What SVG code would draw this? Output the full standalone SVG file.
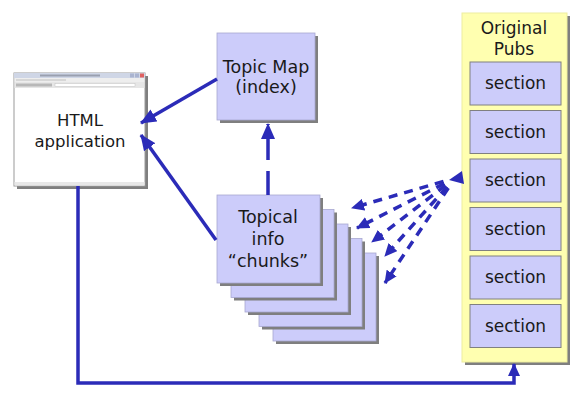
<svg xmlns="http://www.w3.org/2000/svg" width="575" height="420" viewBox="0 0 575 420">
<defs>
<style>
.shadow{fill:#7f7f7f}
.lav{fill:#ccccfa;stroke:#a8a8d0;stroke-width:0.8}
.sec{fill:#ccccfa;stroke:#808080;stroke-width:1}
.t{font-family:"DejaVu Sans",sans-serif;font-size:17px;fill:#1a1a1a;text-anchor:middle}
.ar{stroke:#2b2bb8;stroke-width:3.5;fill:none}
.dash{stroke:#2b2bb8;stroke-width:3.5;fill:none;stroke-dasharray:9,7}
</style>
<marker id="ah" markerUnits="userSpaceOnUse" viewBox="0 0 16 14" refX="15" refY="7" markerWidth="16" markerHeight="14" orient="auto">
<path d="M0,0 L16,7 L0,14 z" fill="#2b2bb8"/>
</marker>
<marker id="ahs" markerUnits="userSpaceOnUse" viewBox="0 0 13 12" refX="12" refY="6" markerWidth="13" markerHeight="12" orient="auto">
<path d="M0,0 L13,6 L0,12 z" fill="#2b2bb8"/>
</marker>
</defs>
<rect width="575" height="420" fill="#ffffff"/>

<g id="html-app">
<rect class="shadow" x="17" y="76" width="131" height="113"/>
<rect x="14" y="73" width="131" height="113" fill="#ffffff" stroke="#9a9a9a" stroke-width="1"/>
<rect x="14" y="73" width="131" height="5" fill="#cfd6e6"/>
<rect x="40" y="74.5" width="60" height="2" fill="#9aa0b0"/>
<rect x="130" y="73.5" width="4" height="4" fill="#aab4d0"/>
<rect x="135" y="73.5" width="4" height="4" fill="#aab4d0"/>
<rect x="140" y="73.5" width="4" height="4" fill="#e06060"/>
<rect x="14.5" y="78" width="130" height="4" fill="#eeeeee"/>
<rect x="16" y="79.5" width="50" height="1" fill="#c0c0c0"/>
<rect x="14.5" y="82" width="130" height="6" fill="#e6e6e6"/>
<rect x="16" y="83.5" width="36" height="3" fill="#b8b8b8"/>
<rect x="55" y="83.5" width="80" height="3" fill="#ffffff" stroke="#c0c0c0" stroke-width="0.5"/>
<rect x="14.5" y="182" width="130" height="3.5" fill="#e8e8e8"/>
<text class="t" x="80" y="126" style="font-size:16.5px">HTML</text>
<text class="t" x="80" y="147" style="font-size:16.5px">application</text>
</g>

<g id="topic-map">
<rect class="shadow" x="220" y="36" width="98" height="87"/>
<rect class="lav" x="217" y="33" width="98" height="87"/>
<text class="t" x="266" y="73" style="font-size:17.5px">Topic Map</text>
<text class="t" x="266" y="93" style="font-size:17.5px">(index)</text>
</g>

<g id="topical-chunks">
<rect class="shadow" x="276" y="256" width="103" height="88"/>
<rect class="lav" x="273" y="253" width="103" height="88"/>
<rect class="shadow" x="262" y="241.5" width="103" height="88"/>
<rect class="lav" x="259" y="238.5" width="103" height="88"/>
<rect class="shadow" x="248" y="227" width="103" height="88"/>
<rect class="lav" x="245" y="224" width="103" height="88"/>
<rect class="shadow" x="234" y="212.5" width="103" height="88"/>
<rect class="lav" x="231" y="209.5" width="103" height="88"/>
<rect class="shadow" x="220" y="198" width="103" height="88"/>
<rect class="lav" x="217" y="195" width="103" height="88"/>
<text class="t" x="268" y="223" style="font-size:17.5px">Topical</text>
<text class="t" x="268" y="245" style="font-size:17.5px">info</text>
<text class="t" x="268" y="267" style="font-size:17.5px">“chunks”</text>
</g>

<g id="original-pubs">
<rect class="shadow" x="465" y="16" width="105" height="349"/>
<rect x="462" y="13" width="105" height="349" fill="#ffffb0" stroke="#eeeea0" stroke-width="1"/>
<text class="t" x="514" y="34">Original</text>
<text class="t" x="514" y="55">Pubs</text>
<g id="section-1"><rect class="sec" x="470" y="62" width="91" height="43"/><text class="t" x="515.5" y="89">section</text></g>
<g id="section-2"><rect class="sec" x="470" y="110.5" width="91" height="43"/><text class="t" x="515.5" y="137.5">section</text></g>
<g id="section-3"><rect class="sec" x="470" y="159" width="91" height="43"/><text class="t" x="515.5" y="186">section</text></g>
<g id="section-4"><rect class="sec" x="470" y="207.5" width="91" height="43"/><text class="t" x="515.5" y="234.5">section</text></g>
<g id="section-5"><rect class="sec" x="470" y="256" width="91" height="43"/><text class="t" x="515.5" y="283">section</text></g>
<g id="section-6"><rect class="sec" x="470" y="304.5" width="91" height="43"/><text class="t" x="515.5" y="331.5">section</text></g>
</g>

<g id="connectors">
<line class="ar" x1="217" y1="79" x2="141" y2="123" marker-end="url(#ah)"/>
<line class="ar" x1="216" y1="240" x2="141" y2="135" marker-end="url(#ah)"/>
<line class="dash" x1="268" y1="195" x2="268" y2="124" style="stroke-dasharray:24,11" marker-end="url(#ah)"/>
<path class="ar" d="M78,186 V383 H514 V364" stroke-width="3" marker-end="url(#ahs)"/>
<polygon points="449,180 462,171 464,184" fill="#2b2bb8"/>
<line class="dash" x1="443.5" y1="181.4" x2="352" y2="208" marker-end="url(#ahs)"/>
<line class="dash" x1="444.3" y1="183.5" x2="357" y2="228" marker-end="url(#ahs)"/>
<line class="dash" x1="445.5" y1="185.3" x2="372" y2="242" marker-end="url(#ahs)"/>
<line class="dash" x1="447" y1="186.9" x2="385" y2="256" marker-end="url(#ahs)"/>
<line class="dash" x1="448.3" y1="188" x2="385" y2="283" marker-end="url(#ahs)"/>
</g>
</svg>
